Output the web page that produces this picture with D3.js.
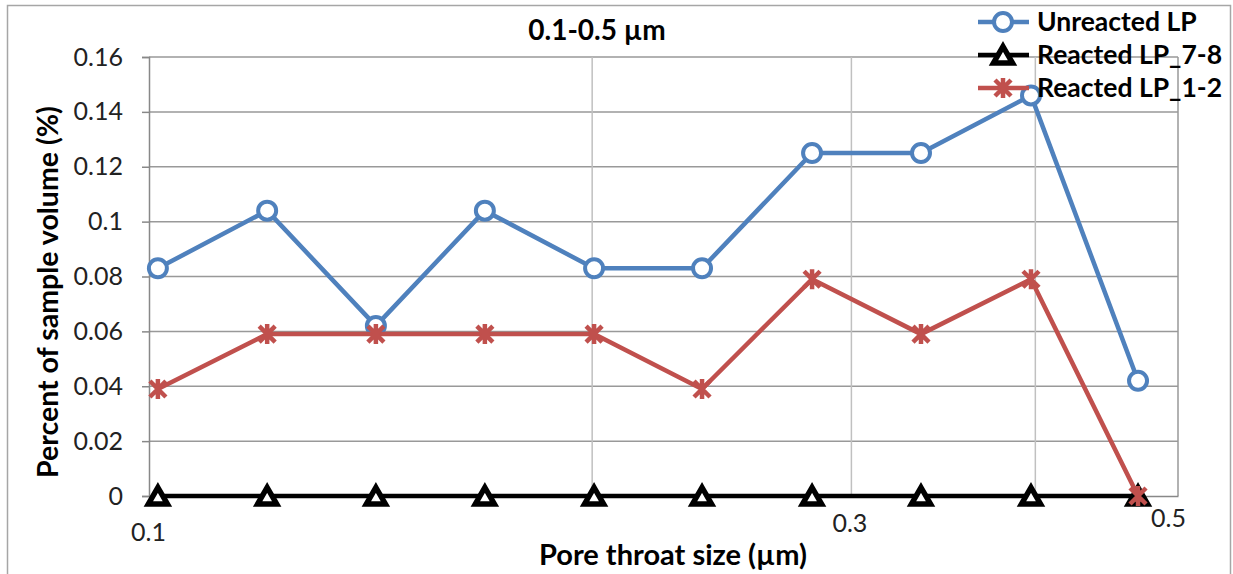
<!DOCTYPE html>
<html>
<head>
<meta charset="utf-8">
<script src="https://cdn.jsdelivr.net/npm/d3@7"></script>
<style>
body { margin:0; background:#fff; }
text { font-family: Lato, "Open Sans", sans-serif; }
</style>
</head>
<body>
<div id="chart"></div>
<script>
// data
const poreSize = [0.1014, 0.1203, 0.1426, 0.1691, 0.2006, 0.2375, 0.2821, 0.3345, 0.3973, 0.4697];
const unreacted = [0.083, 0.104, 0.062, 0.104, 0.083, 0.083, 0.125, 0.125, 0.146, 0.042];
const reacted78 = [0, 0, 0, 0, 0, 0, 0, 0, 0, 0];
const reacted12 = [0.039, 0.059, 0.059, 0.059, 0.059, 0.039, 0.079, 0.059, 0.079, 0];
const seriesNames = ["Unreacted LP", "Reacted LP_7-8", "Reacted LP_1-2"];
const yTicks = [0, 0.02, 0.04, 0.06, 0.08, 0.1, 0.12, 0.14, 0.16];
const xLabelTicks = [0.1, 0.3, 0.5];
const xGridTicks = [0.2, 0.3, 0.4];

const W = 1233, H = 574;
const margin = {top: 57, right: 55, bottom: 78, left: 149};
const width = W - margin.left - margin.right;
const height = H - margin.top - margin.bottom;

const svgRoot = d3.select("#chart").append("svg")
  .attr("width", W).attr("height", H);

// outer chart border
svgRoot.append("rect")
  .attr("x", 7.5).attr("y", 5.5).attr("width", 1223).attr("height", 600)
  .attr("fill", "none").attr("stroke", "#a6a6a6").attr("stroke-width", 1.5);

const svg = svgRoot.append("g")
  .attr("transform", "translate(" + margin.left + "," + margin.top + ")");

const x = d3.scaleLog().domain([0.1, 0.5]).range([0, width]);
const y = d3.scaleLinear().domain([0, 0.16]).range([height, 0]);

// horizontal gridlines
svg.selectAll("line.hgrid")
  .data(yTicks.slice(1))
  .enter().append("line")
  .attr("class", "hgrid")
  .attr("x1", 0).attr("x2", width)
  .attr("y1", d => y(d)).attr("y2", d => y(d))
  .style("stroke", "#999").style("stroke-width", 1.5);

// vertical gridlines
svg.selectAll("line.vgrid")
  .data(xGridTicks)
  .enter().append("line")
  .attr("class", "vgrid")
  .attr("x1", d => x(d)).attr("x2", d => x(d))
  .attr("y1", 0).attr("y2", height)
  .style("stroke", "#c0c0c0").style("stroke-width", 1.5);

// right border of plot area
svg.append("line")
  .attr("x1", width).attr("x2", width).attr("y1", 0).attr("y2", height)
  .style("stroke", "#999").style("stroke-width", 1.5);

// y axis
const yAxis = d3.axisLeft(y).tickValues(yTicks).tickSize(7).tickPadding(19)
  .tickFormat(d => d === 0 ? "0" : String(+d.toFixed(2)));
svg.append("g").attr("class", "y axis")
  .call(yAxis)
  .call(g => g.selectAll("path, line").style("stroke", "#888").style("stroke-width", 1.5))
  .call(g => g.selectAll("text").style("font-size", "25px").style("fill", "#222")
    .style("font-family", "Lato, sans-serif"));

// x axis
const xOffsets = {0.1: [-1, 36], 0.3: [-2, 27], 0.5: [-10, 22]};
const xAxis = d3.axisBottom(x).tickValues(xLabelTicks).tickSize(0)
  .tickFormat(d => String(d));
svg.append("g").attr("class", "x axis")
  .attr("transform", "translate(0," + height + ")")
  .call(xAxis)
  .call(g => g.select(".domain").style("stroke", "#888").style("stroke-width", 1.5))
  .call(g => g.selectAll("text")
    .attr("x", d => xOffsets[d][0])
    .attr("y", d => xOffsets[d][1])
    .attr("dy", "0.35em")
    .style("font-size", "25px").style("fill", "#222")
    .style("font-family", "Lato, sans-serif"));

// series
const colors = ["#4F81BD", "#000000", "#C0504D"];
const series = [unreacted, reacted78, reacted12].map((vals, i) => ({
  name: seriesNames[i], color: colors[i],
  points: vals.map((v, j) => ({x: poreSize[j], y: v}))
}));

const line = d3.line().x(d => x(d.x)).y(d => y(d.y));

function drawMarker(sel, idx, color) {
  if (idx === 0) {
    sel.append("circle").attr("r", 9)
      .attr("fill", "#fff").attr("stroke", color).attr("stroke-width", 4);
  } else if (idx === 1) {
    sel.append("path").attr("d", "M0,-8.5 L9.5,8 L-9.5,8 Z")
      .attr("fill", "#fff").attr("stroke", color).attr("stroke-width", 5.5)
      .attr("stroke-linejoin", "miter");
  } else {
    sel.append("path")
      .attr("d", "M-8,-8 L8,8 M-8,8 L8,-8 M0,-10 L0,10")
      .attr("stroke", color).attr("stroke-width", 4.5).attr("fill", "none");
  }
}

series.forEach((s, i) => {
  svg.append("path").datum(s.points)
    .attr("d", line)
    .attr("fill", "none")
    .attr("stroke", s.color)
    .attr("stroke-width", 4.5)
    .attr("stroke-linejoin", "round");
  svg.selectAll(".m" + i)
    .data(s.points)
    .enter().append("g")
    .attr("class", "m" + i)
    .attr("transform", d => "translate(" + x(d.x) + "," + y(d.y) + ")")
    .each(function () { drawMarker(d3.select(this), i, s.color); });
});

// title
svgRoot.append("text")
  .attr("x", 597).attr("y", 40)
  .style("text-anchor", "middle")
  .style("font-size", "28px").style("font-weight", "bold")
  .text("0.1-0.5 µm");

// axis titles
svgRoot.append("text")
  .attr("transform", "translate(58,292) rotate(-90)")
  .style("text-anchor", "middle")
  .style("font-size", "28.5px").style("font-weight", "bold")
  .text("Percent of sample volume (%)");

svgRoot.append("text")
  .attr("x", 673).attr("y", 565)
  .style("text-anchor", "middle")
  .style("font-size", "29px").style("font-weight", "bold")
  .text("Pore throat size (µm)");

// legend
const legend = svgRoot.append("g").attr("transform", "translate(978,22)");
series.forEach((s, i) => {
  const row = legend.append("g").attr("transform", "translate(0," + (i * 33) + ")");
  row.append("line").attr("x1", 0).attr("x2", 51).attr("y1", 0).attr("y2", 0)
    .attr("stroke", s.color).attr("stroke-width", 4.5);
  const m = row.append("g").attr("transform", "translate(25,0)");
  drawMarker(m, i, s.color);
  row.append("text").attr("x", 59).attr("y", 0).attr("dy", "0.35em")
    .style("font-size", "26.5px").style("font-weight", "bold")
    .text(s.name);
});
</script>
</body>
</html>
